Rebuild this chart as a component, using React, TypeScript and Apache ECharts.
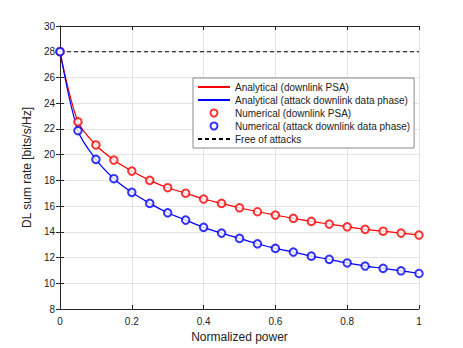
import React, { useEffect, useRef } from "react";
import * as echarts from "echarts";

const xValues = [0, 0.05, 0.1, 0.15, 0.2, 0.25, 0.3, 0.35, 0.4, 0.45, 0.5, 0.55, 0.6, 0.65, 0.7, 0.75, 0.8, 0.85, 0.9, 0.95, 1];
const psaValues = [28, 22.55, 20.75, 19.58, 18.72, 18.0, 17.43, 17.0, 16.55, 16.21, 15.87, 15.56, 15.3, 15.05, 14.81, 14.6, 14.39, 14.19, 14.05, 13.9, 13.75];
const attackValues = [28, 21.86, 19.63, 18.13, 17.07, 16.21, 15.48, 14.91, 14.35, 13.9, 13.49, 13.07, 12.71, 12.43, 12.11, 11.86, 11.58, 11.34, 11.16, 10.97, 10.76];
const freeX = [0, 1];
const freeValues = [28, 28];
const seriesNames = [
  "Analytical (downlink PSA)",
  "Analytical (attack downlink data phase)",
  "Numerical (downlink PSA)",
  "Numerical (attack downlink data phase)",
  "Free of attacks",
];

const FONT = "'Liberation Sans', Arial, Helvetica, sans-serif";
const AXIS = "#262626";
const GRID = "#e3e3e3";

function pairs(xs: number[], ys: number[]) {
  return xs.map((x, i) => [x, ys[i]]);
}

export default function App() {
  const ref = useRef<HTMLDivElement>(null);
  useEffect(() => {
    if (!ref.current) return;
    const chart = echarts.init(ref.current, undefined, { renderer: "svg" });
    const baseX = {
      type: "value" as const,
      min: 0,
      max: 1,
      interval: 0.2,
      axisLine: { show: true, lineStyle: { color: AXIS, width: 1 } },
      axisTick: { show: true, inside: true, length: 4, lineStyle: { color: AXIS } },
    };
    const baseY = {
      type: "value" as const,
      min: 8,
      max: 30,
      interval: 2,
      axisLine: { show: true, lineStyle: { color: AXIS, width: 1 } },
      axisTick: { show: true, inside: true, length: 4, lineStyle: { color: AXIS } },
    };
    chart.setOption({
      animation: false,
      backgroundColor: "#fff",
      textStyle: { fontFamily: FONT },
      grid: { left: 60, right: 44, top: 26, bottom: 39, containLabel: false },
      xAxis: [
        {
          ...baseX,
          position: "bottom",
          name: "Normalized power",
          nameLocation: "middle",
          nameGap: 21,
          nameTextStyle: { fontSize: 12, color: "#222", fontFamily: FONT },
          axisLabel: {
            fontSize: 10,
            color: "#222",
            margin: 7,
            fontFamily: FONT,
            formatter: (v: number) => String(Math.round(v * 10) / 10),
          },
          splitLine: { show: true, lineStyle: { color: GRID, width: 1 } },
        },
        {
          ...baseX,
          position: "top",
          axisLabel: { show: false },
          splitLine: { show: false },
        },
      ],
      yAxis: [
        {
          ...baseY,
          position: "left",
          name: "DL sum rate [bits/s/Hz]",
          nameLocation: "middle",
          nameGap: 15,
          nameTextStyle: { fontSize: 12, color: "#222", fontFamily: FONT },
          axisLabel: { fontSize: 10, color: "#222", margin: 5, fontFamily: FONT },
          splitLine: { show: true, lineStyle: { color: GRID, width: 1 } },
        },
        {
          ...baseY,
          position: "right",
          axisLabel: { show: false },
          splitLine: { show: false },
        },
      ],
      legend: {
        orient: "vertical",
        left: 193,
        top: 78,
        padding: [3, 4, 3, 4],
        itemWidth: 32,
        itemHeight: 7,
        itemGap: 1,
        backgroundColor: "#fff",
        borderColor: "#8a8a8a",
        borderWidth: 1,
        borderRadius: 0,
        textStyle: { fontSize: 10, color: "#222", lineHeight: 12, fontFamily: FONT, padding: [0, 0, 0, 0] },
        data: [
          { name: seriesNames[0], itemStyle: { opacity: 0 } },
          { name: seriesNames[1], itemStyle: { opacity: 0 } },
          { name: seriesNames[2], icon: "emptyCircle" },
          { name: seriesNames[3], icon: "emptyCircle" },
          { name: seriesNames[4], itemStyle: { opacity: 0 } },
        ],
      },
      series: [
        {
          name: seriesNames[0],
          type: "line",
          data: pairs(xValues, psaValues),
          symbol: "none",
          smooth: 0.3,
          lineStyle: { color: "#ff0000", width: 1.2 },
          itemStyle: { color: "#ff0000" },
          z: 3,
        },
        {
          name: seriesNames[1],
          type: "line",
          data: pairs(xValues, attackValues),
          symbol: "none",
          smooth: 0.3,
          lineStyle: { color: "#0000ff", width: 1.2 },
          itemStyle: { color: "#0000ff" },
          z: 3,
        },
        {
          name: seriesNames[2],
          type: "scatter",
          data: pairs(xValues, psaValues),
          symbol: "emptyCircle",
          symbolSize: 7.5,
          itemStyle: { color: "#ff0000", borderColor: "#ff0000", borderWidth: 1.1 },
          z: 4,
        },
        {
          name: seriesNames[3],
          type: "scatter",
          data: pairs(xValues, attackValues),
          symbol: "emptyCircle",
          symbolSize: 7.5,
          itemStyle: { color: "#0000ff", borderColor: "#0000ff", borderWidth: 1.1 },
          z: 4,
        },
        {
          name: seriesNames[4],
          type: "line",
          data: pairs(freeX, freeValues),
          symbol: "none",
          lineStyle: { color: "#000", width: 1.2, type: [4, 3] },
          itemStyle: { color: "#000" },
          z: 2,
        },
      ],
    });
    return () => chart.dispose();
  }, []);
  return (
    <div
      ref={ref}
      style={{ position: "fixed", left: 0, top: 0, width: 463, height: 348 }}
    />
  );
}
